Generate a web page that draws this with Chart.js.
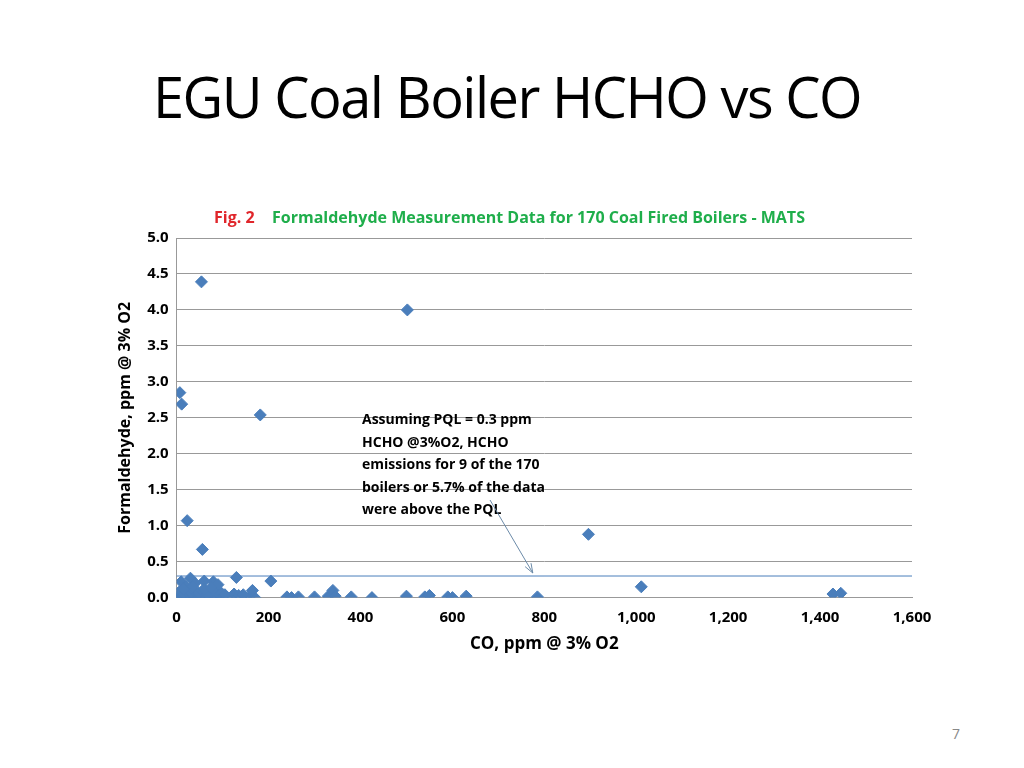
<!DOCTYPE html>
<html><head><meta charset="utf-8">
<script src="https://cdn.jsdelivr.net/npm/chart.js@4"></script>
<style>
body{margin:0;background:#fff;width:1024px;height:768px;overflow:hidden;position:relative;font-family:"Open Sans",sans-serif}
#t{position:absolute;left:153px;top:58px;font-size:56px;color:#000;font-family:"Open Sans",sans-serif;letter-spacing:-1.5px}
#p{position:absolute;left:952px;top:724px;font-size:14px;color:#888}
canvas{position:absolute;left:0;top:0}
</style></head><body>
<div id="t">EGU Coal Boiler HCHO vs CO</div>
<div id="p">7</div>
<canvas id="c" width="1024" height="768"></canvas>
<script>
var coValues = [54, 502, 7, 11, 182, 23, 56, 896, 1011, 1428, 1445, 785, 130, 205,
  2, 5, 8, 10, 12, 15, 18, 20, 25, 28, 30, 35, 40, 45, 50, 60, 65, 70, 75, 80, 85, 90, 95, 100, 110, 120, 140, 150, 160, 170,
  3, 6, 14, 22, 32, 38, 48, 58, 68, 78, 88, 98, 105, 125, 135, 145,
  10, 20, 30, 40, 60, 80, 90, 165,
  240, 250, 265, 300, 330, 340, 345, 380, 425, 500, 540, 550, 590, 600, 630, 60, 75, 35, 15];
var hchoValues = [4.39, 4.0, 2.85, 2.69, 2.54, 1.07, 0.67, 0.88, 0.15, 0.05, 0.06, 0.01, 0.28, 0.23,
  0.01, 0.0, 0.02, 0.01, 0.03, 0.0, 0.02, 0.01, 0.0, 0.03, 0.01, 0.02, 0.0, 0.01, 0.02, 0.0, 0.01, 0.03, 0.0, 0.02, 0.01, 0.0, 0.02, 0.01, 0.0, 0.02, 0.01, 0.0, 0.02, 0.0,
  0.06, 0.08, 0.05, 0.09, 0.07, 0.1, 0.06, 0.08, 0.05, 0.1, 0.07, 0.06, 0.04, 0.05, 0.03, 0.04,
  0.22, 0.15, 0.27, 0.2, 0.23, 0.22, 0.18, 0.1,
  0.01, 0.0, 0.01, 0.01, 0.02, 0.1, 0.02, 0.01, 0.0, 0.02, 0.01, 0.03, 0.01, 0.0, 0.02, 0.12, 0.14, 0.15, 0.12];
var pqlLevel = 0.3;
var xTicks = [0, 200, 400, 600, 800, 1000, 1200, 1400, 1600];
var yTicks = [0, 0.5, 1, 1.5, 2, 2.5, 3, 3.5, 4, 4.5, 5];

var pts = coValues.map(function (x, i) { return {x: x, y: hchoValues[i]}; });
var font = "'Open Sans', sans-serif";

var extras = {
  id: 'extras',
  afterDraw: function (chart) {
    var ctx = chart.ctx, xs = chart.scales.x, ys = chart.scales.y;
    ctx.save();
    ctx.font = 'bold 16px ' + font;
    ctx.textBaseline = 'alphabetic';
    ctx.fillStyle = '#e0262b';
    ctx.fillText('Fig. 2', 214, 223);
    ctx.fillStyle = '#1fae4b';
    ctx.fillText('Formaldehyde Measurement Data for 170 Coal Fired Boilers - MATS', 272, 223);
    ctx.fillStyle = '#000';
    ctx.font = 'bold 14px ' + font;
    var lines = ['Assuming PQL = 0.3 ppm', 'HCHO @3%O2, HCHO', 'emissions for 9 of the 170', 'boilers or 5.7% of the data', 'were above the PQL'];
    lines.forEach(function (l, i) { ctx.fillText(l, 362, 424 + i * 22.5); });
    var x1 = 490, y1 = 500, x2 = xs.getPixelForValue(775), y2 = ys.getPixelForValue(pqlLevel) - 3;
    ctx.strokeStyle = '#6b8aa8';
    ctx.lineWidth = 1;
    ctx.beginPath(); ctx.moveTo(x1, y1); ctx.lineTo(x2, y2);
    var ang = Math.atan2(y2 - y1, x2 - x1);
    ctx.moveTo(x2, y2); ctx.lineTo(x2 - 10 * Math.cos(ang - 0.35), y2 - 10 * Math.sin(ang - 0.35));
    ctx.moveTo(x2, y2); ctx.lineTo(x2 - 10 * Math.cos(ang + 0.35), y2 - 10 * Math.sin(ang + 0.35));
    ctx.stroke();
    ctx.restore();
  }
};

new Chart(document.getElementById('c'), {
  type: 'scatter',
  data: {
    datasets: [{
      data: pts,
      pointStyle: 'rectRot',
      pointRadius: 6,
      backgroundColor: '#4a7ebb',
      borderColor: '#4a7ebb'
    }, {
      type: 'line',
      data: [{x: -20, y: pqlLevel}, {x: 1620, y: pqlLevel}],
      borderColor: '#4a7ebb',
      borderWidth: 1,
      pointRadius: 0
    }]
  },
  options: {
    responsive: false,
    animation: false,
    layout: {padding: {left: 112, top: 238, right: 112, bottom: 110}},
    plugins: {legend: {display: false}, tooltip: {enabled: false}},
    scales: {
      x: {
        min: 0, max: 1600,
        afterBuildTicks: function (s) { s.ticks = xTicks.map(function (v) { return {value: v}; }); },
        grid: {display: false, drawTicks: true},
        border: {color: '#999'},
        ticks: {color: '#000', font: {family: font, size: 15, weight: 'bold'}, callback: function (v) { return v.toLocaleString('en-US'); }},
        title: {display: true, text: 'CO, ppm @ 3% O2', color: '#000', font: {family: font, size: 17, weight: 'bold'}}
      },
      y: {
        min: 0, max: 5,
        afterBuildTicks: function (s) { s.ticks = yTicks.map(function (v) { return {value: v}; }); },
        grid: {color: '#999', drawTicks: false},
        border: {color: '#999'},
        ticks: {color: '#000', padding: 8, font: {family: font, size: 15, weight: 'bold'}, callback: function (v) { return v.toFixed(1); }},
        title: {display: true, text: 'Formaldehyde, ppm @ 3% O2', color: '#000', font: {family: font, size: 16, weight: 'bold'}}
      }
    }
  },
  plugins: [extras]
});
</script>
</body></html>
